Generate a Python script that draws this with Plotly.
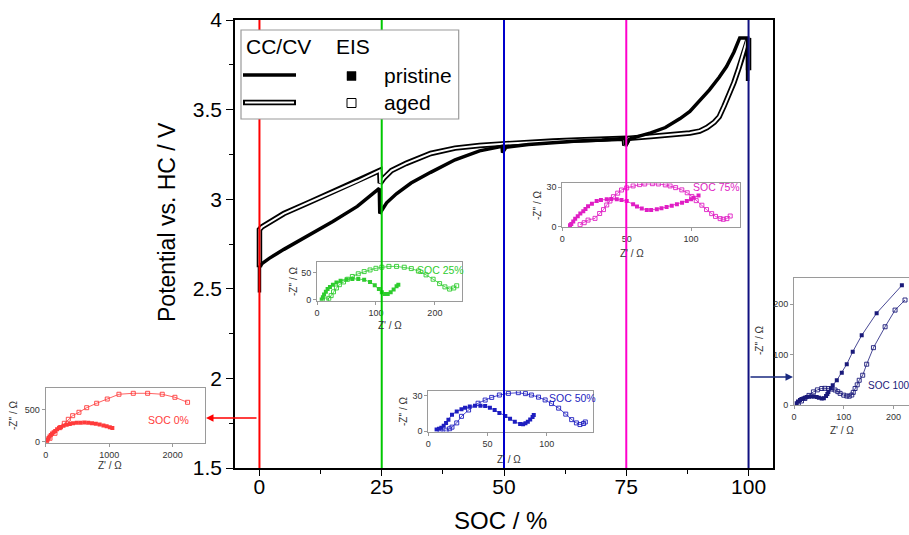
import plotly.graph_objects as go

W, H = 909, 535
def xp(px): return px / W
def yp(py): return 1 - py / H

FONT = "Liberation Sans, Arial, sans-serif"

# ---------------- main CC/CV curves ----------------
soc_pristine = [0, 0, 0.5, 2, 5, 10, 15, 20, 24.5, 24.6, 25.3, 26, 28, 31, 35, 40, 45, 49.6, 49.7, 50.4,
                55, 60, 65, 70, 74.8, 74.9, 75.6, 78, 80, 83, 86, 88, 90, 92, 94, 95.5, 97, 98.2, 99.8, 99.8]
v_pristine = [2.48, 2.62, 2.64, 2.67, 2.72, 2.795, 2.875, 2.96, 3.06, 2.92, 2.95, 2.98, 3.03, 3.09, 3.15, 3.22, 3.27, 3.295, 3.26, 3.29,
              3.305, 3.315, 3.325, 3.33, 3.34, 3.30, 3.335, 3.355, 3.37, 3.40, 3.45, 3.49, 3.55, 3.61, 3.68, 3.74, 3.82, 3.90, 3.90, 3.66]

soc_aged = [0, 0, 0.5, 2, 5, 10, 15, 20, 24.6, 24.7, 25.5, 27, 30, 35, 40, 45, 50, 55, 60, 65, 70, 74.6, 74.7, 75.5,
            80, 85, 88, 90, 91.5, 93, 94, 95, 96, 97, 98, 99, 99.8, 100, 100]
v_aged = [2.62, 2.83, 2.845, 2.87, 2.92, 2.98, 3.04, 3.10, 3.16, 3.09, 3.12, 3.16, 3.20, 3.255, 3.285, 3.30, 3.31, 3.318, 3.325, 3.33, 3.335, 3.34, 3.30, 3.34,
          3.35, 3.36, 3.37, 3.38, 3.40, 3.43, 3.46, 3.52, 3.58, 3.65, 3.73, 3.82, 3.90, 3.90, 3.72]

soc_marks = [0, 25, 50, 75, 100]
soc_colors = ["#FF0000", "#00C800", "#0000CC", "#FF00CC", "#101080"]

# ---------------- EIS insets ----------------
z0_p_re = [15, 30, 45, 60, 80, 100, 125, 150, 180, 210, 240, 280, 330, 380, 430, 490, 550, 610, 670, 730, 790, 850, 910, 960, 1010, 1050]
z0_p_im = [10, 35, 60, 80, 105, 128, 150, 170, 195, 215, 232, 250, 268, 280, 290, 297, 300, 301, 299, 292, 282, 270, 256, 242, 228, 215]
z0_a_re = [15, 68, 146, 225, 293, 356, 425, 524, 646, 803, 970, 1154, 1380, 1606, 1836, 2036, 2235]
z0_a_im = [11, 54, 132, 221, 290, 353, 410, 464, 536, 606, 673, 748, 763, 763, 748, 700, 621]

z25_p_re = [8, 10, 12, 15, 18, 22, 27, 33, 40, 50, 60, 70, 80, 90, 98, 105, 110, 115, 120, 125, 130, 135, 138]
z25_p_im = [1, 5, 10, 15, 20, 24, 28, 32, 35, 37.5, 38.5, 38.5, 37, 33, 27, 20, 14, 11, 11, 14, 19, 25, 28]
z25_a_re = [16, 20, 24, 28, 33, 38, 45, 52, 60, 70, 80, 90, 100, 110, 122, 135, 148, 160, 172, 185, 197, 208, 217, 225, 232, 237]
z25_a_im = [0, 3, 8, 15, 22, 28, 33, 38, 43, 48, 52, 55, 58, 60, 61.5, 61.5, 60, 57.5, 53, 46, 38, 30, 24, 20, 22, 26]

z50_p_re = [7, 9, 11, 13, 15, 17, 20, 24, 28, 31, 35, 39.4, 44, 48, 52, 56, 60, 65, 69, 73, 77.5, 80, 82, 84, 86, 88, 89]
z50_p_im = [1.4, 2, 2.8, 4.5, 7, 9.8, 14, 16.8, 18.7, 20, 21, 21.7, 21.7, 21.4, 20, 18, 15.5, 13, 10.5, 8, 6, 5.8, 6.7, 8, 10, 12, 13.7]
z50_a_re = [10, 15, 18, 20, 24, 28, 34, 42, 48, 53.5, 60, 67.6, 76, 82, 87, 93, 98.6, 104, 110, 116, 121, 125, 128, 131, 132.5]
z50_a_im = [0.8, 0.8, 2, 3.4, 7, 12.6, 18, 23.8, 26.5, 28.8, 30.8, 32.2, 32.8, 32, 30.8, 29, 26.6, 23.5, 19.6, 14.5, 9.8, 7, 5.6, 6.5, 7.8]

z75_p_re = [6, 7, 8.5, 10, 12, 14, 16.3, 18, 20, 23, 26.7, 30, 34.5, 38, 42.3, 46, 50, 55, 58, 61.7, 65.6, 69, 73.4, 77, 81, 85, 89, 93, 96.7, 100, 102, 105.8]
z75_p_im = [1, 2, 4, 6, 8, 10, 11.7, 13.5, 15.6, 17.5, 19.5, 20.3, 20.8, 21, 20.8, 20.3, 19.5, 17, 15.3, 13.9, 12.7, 12.7, 13.2, 14, 15, 16, 17, 18.2, 19.5, 20.8, 22, 23.8]
z75_a_re = [13.8, 17, 20, 25.4, 29, 32, 34.5, 37, 39.7, 43, 46, 50, 55, 60, 64, 70, 74.6, 80, 83.7, 88, 92.8, 97, 100.6, 104, 108.4, 112, 116, 119, 122.6, 125, 127.8, 130.4]
z75_a_im = [1.5, 3, 5, 6.3, 10, 13, 16.5, 19.5, 22.8, 25.5, 27.9, 29.5, 31, 32, 32.5, 32.7, 32.5, 31.8, 31, 29.7, 28, 25.8, 23, 19.8, 16.3, 13, 9.9, 7.8, 6.1, 5.6, 6.1, 8.1]

z100_p_re = [5.4, 8, 12, 15, 18.8, 22, 25.5, 30, 35.6, 40, 45.6, 50, 55.7, 60, 64.4, 67, 69, 74, 77.8, 86, 96, 106, 118, 136, 166, 216.7]
z100_p_im = [3.3, 7, 10, 12, 13, 14.5, 15.8, 16.5, 17, 16.6, 15.8, 14.5, 13, 13.5, 17.8, 22, 26, 33, 39, 49, 64, 80.8, 105.6, 138, 182, 237]
z100_a_re = [8.7, 15, 22, 30, 39, 47, 55.7, 62, 69, 76, 82.5, 88, 92.6, 100, 106, 111, 116, 119, 122.7, 127, 131, 138, 146, 159.6, 183, 203, 223]
z100_a_im = [3.3, 8, 13, 19, 26, 30, 32.7, 33, 32.7, 31.5, 29.7, 26.5, 23, 19.5, 17.8, 17.5, 19.8, 25, 32.7, 40, 49, 59, 80.8, 113.6, 155, 188, 208]

insets = [
    dict(p=(z0_p_re, z0_p_im), a=(z0_a_re, z0_a_im), color="#FF3B3B", label="SOC 0%",
         box=(45.7, 205, 388.3, 442.7), xr=[0, 2510], yr=[-16, 842], dx=1000, dy=500,
         lab=(168, 420), xt=(110, 465), yt=(13, 415), ymirror=True),
    dict(p=(z25_p_re, z25_p_im), a=(z25_a_re, z25_a_im), color="#2ECC2E", label="SOC 25%",
         box=(317, 462, 262.3, 300.7), xr=[0, 246], yr=[-1.3, 69], dx=100, dy=50,
         lab=(440, 270), xt=(390, 325), yt=(293, 281), ymirror=True),
    dict(p=(z50_p_re, z50_p_im), a=(z50_a_re, z50_a_im), color="#1E1EC0", label="SOC 50%",
         box=(428.3, 593, 390.7, 431.7), xr=[0, 139], yr=[-0.5, 34.5], dx=50, dy=30,
         lab=(572, 398), xt=(509, 459), yt=(403, 411), ymirror=True),
    dict(p=(z75_p_re, z75_p_im), a=(z75_a_re, z75_a_im), color="#E01EC4", label="SOC 75%",
         box=(562.3, 740, 183.3, 227.3), xr=[0, 138], yr=[-0.5, 33], dx=50, dy=30,
         lab=(716, 187), xt=(632, 253), yt=(538, 205), ymirror=True),
    dict(p=(z100_p_re, z100_p_im), a=(z100_a_re, z100_a_im), color="#1A1A7A", label="SOC 100",
         box=(794, 909, 278.3, 405), xr=[0, 231], yr=[0, 251], dx=100, dy=100,
         lab=(866, 385), xt=(842, 430), yt=(759, 340), ymirror=False),
]

fig = go.Figure()

fig.add_trace(go.Scatter(x=soc_aged, y=v_aged, mode="lines", line=dict(color="black", width=5.5),
                         showlegend=False, hoverinfo="skip"))
fig.add_trace(go.Scatter(x=soc_aged, y=v_aged, mode="lines", line=dict(color="white", width=2),
                         showlegend=False, hoverinfo="skip"))
fig.add_trace(go.Scatter(x=soc_pristine, y=v_pristine, mode="lines", line=dict(color="black", width=3.5),
                         showlegend=False, hoverinfo="skip"))

annotations = []
shapes = []

def note(text, px, py, size, color="black", xanchor="center", angle=0):
    return dict(text=text, x=xp(px), y=yp(py), xref="paper", yref="paper", showarrow=False,
                xanchor=xanchor, yanchor="middle", textangle=angle,
                font=dict(family=FONT, size=size, color=color))

for i, ins in enumerate(insets, start=2):
    xa, ya = f"x{i}", f"y{i}"
    fig.add_trace(go.Scatter(x=ins["a"][0], y=ins["a"][1], xaxis=xa, yaxis=ya, mode="lines+markers",
                             line=dict(color=ins["color"], width=0.8),
                             marker=dict(symbol="square-open", size=4, color=ins["color"], line=dict(width=0.9)),
                             showlegend=False, hoverinfo="skip"))
    fig.add_trace(go.Scatter(x=ins["p"][0], y=ins["p"][1], xaxis=xa, yaxis=ya, mode="lines+markers",
                             line=dict(color=ins["color"], width=0.8),
                             marker=dict(symbol="square", size=4, color=ins["color"]),
                             showlegend=False, hoverinfo="skip"))
    x0, x1, yt_, yb_ = ins["box"]
    common = dict(showgrid=False, zeroline=False, showline=True, linecolor="#9a9a9a", linewidth=1,
                  ticks="outside", ticklen=3, tickcolor="#9a9a9a", automargin=False,
                  tickfont=dict(family=FONT, size=9, color="#333333"))
    fig.update_layout(**{
        f"xaxis{i}": dict(domain=[xp(x0), xp(x1)], range=ins["xr"], anchor=ya, dtick=ins["dx"], mirror=True, **common),
        f"yaxis{i}": dict(domain=[yp(yb_), yp(yt_)], range=ins["yr"], anchor=xa, dtick=ins["dy"], mirror=ins["ymirror"], **common),
    })
    annotations.append(note(ins["label"], ins["lab"][0], ins["lab"][1], 10 if i == 6 else 10.5, ins["color"],
                            xanchor="left" if i == 6 else "center"))
    annotations.append(note("Z' / Ω", ins["xt"][0], ins["xt"][1], 10, "#333333"))
    annotations.append(note("-Z'' / Ω", ins["yt"][0], ins["yt"][1], 10, "#333333", angle=-90))

for s, c in zip(soc_marks, soc_colors):
    shapes.append(dict(type="line", xref="x", yref="y", x0=s, x1=s, y0=1.5, y1=4,
                       line=dict(color=c, width=2), layer="above"))

# legend (decoration)
shapes.append(dict(type="rect", xref="paper", yref="paper", x0=xp(241), x1=xp(458.7), y0=yp(119), y1=yp(30),
                   fillcolor="white", line=dict(color="#9a9a9a", width=1.2), layer="above"))
shapes.append(dict(type="line", xref="paper", yref="paper", x0=xp(243), x1=xp(296), y0=yp(75), y1=yp(75),
                   line=dict(color="black", width=3.5), layer="above"))
shapes.append(dict(type="line", xref="paper", yref="paper", x0=xp(243), x1=xp(296), y0=yp(102.5), y1=yp(102.5),
                   line=dict(color="black", width=5.5), layer="above"))
shapes.append(dict(type="line", xref="paper", yref="paper", x0=xp(245), x1=xp(294), y0=yp(102.5), y1=yp(102.5),
                   line=dict(color="white", width=2), layer="above"))
shapes.append(dict(type="rect", xref="paper", yref="paper", x0=xp(347), x1=xp(356), y0=yp(80.5), y1=yp(71.5),
                   fillcolor="black", line=dict(color="black", width=0.5), layer="above"))
shapes.append(dict(type="rect", xref="paper", yref="paper", x0=xp(347), x1=xp(356), y0=yp(107.5), y1=yp(98.5),
                   fillcolor="white", line=dict(color="black", width=1), layer="above"))

annotations += [
    note("CC/CV", 244, 46, 21, xanchor="left"),
    note("EIS", 334, 46, 21, xanchor="left"),
    note("pristine", 382, 75, 21, xanchor="left"),
    note("aged", 382, 102, 21, xanchor="left"),
]

annotations.append(dict(x=xp(206), y=yp(418), ax=52, ay=0, xref="paper", yref="paper", text="",
                        showarrow=True, arrowhead=2, arrowsize=1, arrowwidth=1.5, arrowcolor="#FF0000"))
annotations.append(dict(x=xp(793), y=yp(377), ax=-44, ay=0, xref="paper", yref="paper", text="",
                        showarrow=True, arrowhead=2, arrowsize=1, arrowwidth=1.5, arrowcolor="#1A2A80"))

annotations.append(note("Potential vs. HC / V", 167, 222, 23, angle=-90))
annotations.append(note("SOC / %", 500, 520, 24))

fig.update_layout(
    width=W, height=H, margin=dict(l=0, r=0, t=0, b=0, autoexpand=False),
    paper_bgcolor="white", plot_bgcolor="rgba(0,0,0,0)",
    showlegend=False,
    xaxis=dict(domain=[xp(235), xp(773)], range=[-5, 105], tickvals=soc_marks, ticks="outside", ticklen=6,
               tickwidth=1.3, tickcolor="black", showline=True, linecolor="black", linewidth=1.5, mirror=True,
               ticklabelstandoff=-7,
               showgrid=False, zeroline=False, automargin=False, tickfont=dict(family=FONT, size=21, color="black"),
               minor=dict(dtick=12.5, tick0=0, ticks="outside", ticklen=4, tickcolor="black")),
    yaxis=dict(domain=[yp(468), yp(20)], range=[1.5, 4], dtick=0.5, ticks="outside", ticklen=7,
               tickwidth=1.3, tickcolor="black", showline=True, linecolor="black", linewidth=1.5, mirror=True,
               showgrid=False, zeroline=False, automargin=False, tickfont=dict(family=FONT, size=21, color="black"),
               minor=dict(dtick=0.25, ticks="outside", ticklen=4, tickcolor="black")),
    shapes=shapes, annotations=annotations,
)

fig.write_html("out.html")
